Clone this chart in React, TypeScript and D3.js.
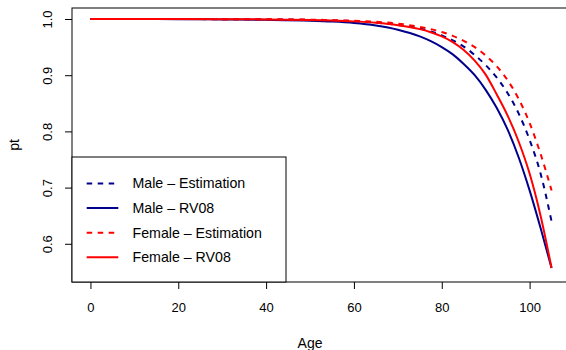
import { useRef, useEffect } from 'react';
import * as d3 from 'd3';

const WIDTH = 566;
const HEIGHT = 350;

const ages = [0, 10, 20, 30, 40, 50, 55, 60, 65, 70, 75, 77.5, 80, 82.5, 85, 87.5, 90, 92.5, 95, 97.5, 100, 102.5, 105];
const maleEst = [1, 0.99995, 0.9999, 0.9997, 0.9993, 0.9984, 0.9974, 0.996, 0.9935, 0.9895, 0.983, 0.978, 0.971, 0.962, 0.951, 0.936, 0.918, 0.896, 0.868, 0.832, 0.785, 0.725, 0.64];
const maleRV08 = [1, 0.9999, 0.9997, 0.9993, 0.9985, 0.997, 0.9955, 0.993, 0.9885, 0.981, 0.969, 0.9605, 0.95, 0.937, 0.92, 0.9, 0.874, 0.842, 0.803, 0.754, 0.695, 0.628, 0.557];
const femaleEst = [1, 1, 0.9999, 0.9998, 0.9995, 0.9989, 0.998, 0.997, 0.9952, 0.9918, 0.986, 0.982, 0.977, 0.97, 0.961, 0.95, 0.935, 0.916, 0.891, 0.858, 0.815, 0.76, 0.695];
const femaleRV08 = [1, 0.99995, 0.9999, 0.9997, 0.9993, 0.9984, 0.9974, 0.9958, 0.9932, 0.989, 0.982, 0.9765, 0.969, 0.959, 0.945, 0.926, 0.901, 0.866, 0.828, 0.782, 0.725, 0.65, 0.557];

const xTicks = [0, 20, 40, 60, 80, 100];
const yTicks = [0.6, 0.7, 0.8, 0.9, 1.0];

const series = [
  { name: 'Male \u2013 Estimation', values: maleEst, color: '#00008b', dash: '5.5,5.5' },
  { name: 'Male \u2013 RV08', values: maleRV08, color: '#00008b', dash: null },
  { name: 'Female \u2013 Estimation', values: femaleEst, color: '#ff0000', dash: '5.5,5.5' },
  { name: 'Female \u2013 RV08', values: femaleRV08, color: '#ff0000', dash: null },
];

const App = () => {
  const svgRef = useRef<SVGSVGElement>(null);

  useEffect(() => {
    const svg = d3.select(svgRef.current);
    svg.selectAll('*').remove();

    const left = 72, right = 570, top = 8, bottom = 282;
    const font = 'Liberation Sans, Arial, Helvetica, sans-serif';

    const x = d3.scaleLinear().domain([-4.2, 109.2]).range([left, right]);
    const y = d3.scaleLinear().domain([0.532, 1.0196]).range([bottom, top]);

    const line = d3.line<number>()
      .x((d, i) => x(ages[i]))
      .y(d => y(d))
      .curve(d3.curveMonotoneX);

    series.forEach(s => {
      svg.append('path')
        .datum(s.values)
        .attr('fill', 'none')
        .attr('stroke', s.color)
        .attr('stroke-width', 2)
        .attr('stroke-dasharray', s.dash)
        .attr('d', line);
    });

    // plot box
    svg.append('rect')
      .attr('x', left).attr('y', top)
      .attr('width', right - left).attr('height', bottom - top)
      .attr('fill', 'none').attr('stroke', '#000').attr('stroke-width', 1);

    // x axis
    const xa = svg.append('g').attr('transform', `translate(0,${bottom})`)
      .call(d3.axisBottom(x).tickValues(xTicks).tickSize(7).tickPadding(14).tickFormat(d3.format('d')));
    xa.select('.domain').remove();
    xa.selectAll('text').attr('font-size', 13).attr('font-family', font).attr('fill', '#000');

    // y axis
    const ya = svg.append('g').attr('transform', `translate(${left},0)`)
      .call(d3.axisLeft(y).tickValues(yTicks).tickSize(7).tickFormat(d3.format('.1f')));
    ya.select('.domain').remove();
    ya.selectAll('text')
      .attr('font-size', 13).attr('font-family', font).attr('fill', '#000')
      .attr('x', null)
      .attr('text-anchor', 'middle')
      .attr('transform', 'translate(-25,0) rotate(-90)')
      .attr('dy', '0.35em');

    svg.append('text')
      .attr('x', (x(0) + x(100)) / 2).attr('y', 348)
      .attr('text-anchor', 'middle')
      .attr('font-size', 14).attr('font-family', font)
      .text('Age');

    svg.append('text')
      .attr('transform', `translate(19,${(top + bottom) / 2}) rotate(-90)`)
      .attr('text-anchor', 'middle')
      .attr('font-size', 14).attr('font-family', font)
      .text('pt');

    // legend
    const lg = svg.append('g');
    lg.append('rect')
      .attr('x', left).attr('y', 157)
      .attr('width', 286 - left).attr('height', bottom - 157)
      .attr('fill', '#fff').attr('stroke', '#000').attr('stroke-width', 1);

    series.forEach((s, i) => {
      const yy = 183.5 + i * 24.6;
      lg.append('line')
        .attr('x1', 86.7).attr('x2', 118.3)
        .attr('y1', yy).attr('y2', yy)
        .attr('stroke', s.color).attr('stroke-width', 2)
        .attr('stroke-dasharray', s.dash);
      lg.append('text')
        .attr('x', 132.5).attr('y', yy).attr('dy', '0.35em')
        .attr('font-size', 14.2).attr('font-family', font)
        .text(s.name);
    });
  }, []);

  return (
    <svg ref={svgRef} width={WIDTH} height={HEIGHT}
      style={{ position: 'absolute', left: 0, top: 0, background: '#fff' }}></svg>
  );
};

export default App;
